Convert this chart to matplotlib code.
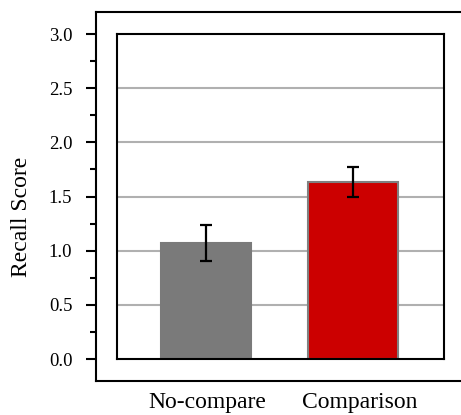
import numpy as np
import matplotlib
matplotlib.use("Agg")
import matplotlib.pyplot as plt
from matplotlib.ticker import MultipleLocator

conditions = ["No-compare", "Comparison"]
scores = [1.07, 1.635]
errors = [0.165, 0.135]
bar_colors = ["#7a7a7a", "#cc0000"]
edge_colors = ["#7a7a7a", "#808080"]
y_ticks = [0.0, 0.5, 1.0, 1.5, 2.0, 2.5, 3.0]

plt.rcParams['font.family'] = ['Liberation Serif', 'DejaVu Serif']

W, H = 461, 415
fig = plt.figure(figsize=(W / 100, H / 100), dpi=100)

def box(x0, y0, x1, y1):
    # pixel box (top-left origin) -> figure fraction
    return [x0 / W, 1 - y1 / H, (x1 - x0) / W, (y1 - y0) / H]

# outer frame carrying the y axis and category labels
outer = fig.add_axes(box(96, 12, 470, 381))
ppu = (359 - 34) / 3.0
outer.set_ylim(-(381 - 359) / ppu, 3 + (34 - 12) / ppu)
outer.set_xlim(0, 374)
outer.set_yticks(y_ticks)
outer.set_yticklabels([f"{t:.1f}" for t in y_ticks], fontsize=13.5)
outer.yaxis.set_minor_locator(MultipleLocator(0.25))
outer.tick_params(axis='y', which='major', length=7, width=1.5, direction='out', pad=10)
outer.tick_params(axis='y', which='minor', length=4, width=1.5, direction='out')
outer.set_xticks([207 - 96, 360 - 96])
outer.set_xticklabels(conditions, fontsize=17)
outer.tick_params(axis='x', length=0, pad=8)
for s in ['left', 'top', 'bottom']:
    outer.spines[s].set_linewidth(1.5)
outer.spines['right'].set_visible(False)
outer.set_ylabel("Recall Score", fontsize=17)
outer.yaxis.set_label_coords(-0.17, 0.444)
outer.patch.set_alpha(0)

# inner plot box with bars
inner = fig.add_axes(box(117, 34, 444, 359))
x = np.arange(len(conditions))
inner.set_xlim(-0.603, 1.614)
inner.set_ylim(0, 3)
for yv in y_ticks[1:-1]:
    inner.axhline(yv, color="#b0b0b0", lw=1.5, zorder=0)
inner.bar(x, scores, width=0.61, color=bar_colors, edgecolor=edge_colors,
          linewidth=1.5, zorder=2)
inner.errorbar(x, scores, yerr=errors, fmt='none', ecolor='black',
               elinewidth=1.6, capsize=4.5, capthick=1.6, zorder=3)
inner.set_xticks([])
inner.set_yticks([])
for s in inner.spines.values():
    s.set_linewidth(1.5)

fig.savefig("out.png", dpi=100)
